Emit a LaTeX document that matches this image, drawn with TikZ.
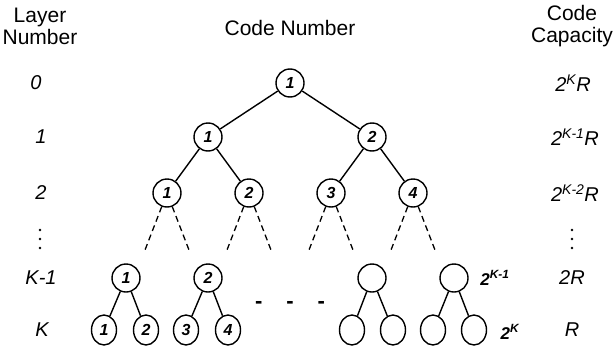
\documentclass[tikz,border=0pt]{standalone}
\usepackage{fontspec}
\setmainfont{Liberation Sans}
\usepackage{tikz}
\usetikzlibrary{shapes.geometric, positioning}

\tikzset{
    code/.style={draw, ellipse, line width=1.4pt, minimum width=28pt, minimum height=28pt, inner sep=0pt, font=\fontsize{16}{16}\selectfont\bfseries\itshape},
    leaf/.style={code, minimum width=25pt, minimum height=30pt},
    head/.style={align=center, font=\fontsize{21}{22}\selectfont},
    lbl/.style={font=\fontsize{20}{22}\selectfont\itshape},
    cnt/.style={font=\fontsize{17}{17}\selectfont\bfseries\itshape},
    edge/.style={line width=1.4pt},
    dedge/.style={line width=1.3pt, dash pattern=on 6pt off 4pt},
    dot/.style={circle, fill, inner sep=0pt, minimum size=2.6pt},
}

\begin{document}
\begin{tikzpicture}[x=1pt, y=-1pt]
    \useasboundingbox (0,0) rectangle (615,348);
    % Headings
    \node[head] (hlayer) at (40,26) {Layer\\Number};
    \node[head] (hcode) at (290,28) {Code Number};
    \node[head] (hcap) at (572,26) {Code\\Capacity};

    % Layer numbers
    \node[lbl] (l0) at (36,83) {0};
    \node[lbl] (l1) at (41,137) {1};
    \node[lbl] (l2) at (41,193) {2};
    \node[lbl] (lk1) at (41,278) {K-1};
    \node[lbl] (lk) at (42,330) {K};

    % Code capacities
    \node[lbl] (c0) at (573,83) {2\textsuperscript{K}R};
    \node[lbl] (c1) at (575,137) {2\textsuperscript{K-1}R};
    \node[lbl] (c2) at (575,193) {2\textsuperscript{K-2}R};
    \node[lbl] (ck1) at (572,278) {2R};
    \node[lbl] (ck) at (572,330) {R};

    % Vertical dots
    \node[dot] (ld1) at (40,230) {};
    \node[dot] (ld2) at (40,239) {};
    \node[dot] (ld3) at (40,248) {};
    \node[dot] (cd1) at (572,230) {};
    \node[dot] (cd2) at (572,239) {};
    \node[dot] (cd3) at (572,248) {};

    % Nodes
    \node[code] (root) at (290,83) {1};
    \node[code] (a1) at (208,137) {1};
    \node[code] (a2) at (372,137) {2};
    \node[code] (b1) at (167,193) {1};
    \node[code] (b2) at (249,193) {2};
    \node[code] (b3) at (331,193) {3};
    \node[code] (b4) at (413,193) {4};

    \node[code] (k1) at (126,278) {1};
    \node[code] (k2) at (208,278) {2};
    \node[code] (k3) at (372,278) {};
    \node[code] (k4) at (454,278) {};
    \node[cnt] (nk1) at (495,278) {2\textsuperscript{K-1}};

    \node[leaf] (m1) at (104,330) {1};
    \node[leaf] (m2) at (146,330) {2};
    \node[leaf] (m3) at (186,330) {3};
    \node[leaf] (m4) at (228,330) {4};
    \node[leaf] (m5) at (352,330) {};
    \node[leaf] (m6) at (393,330) {};
    \node[leaf] (m7) at (433,330) {};
    \node[leaf] (m8) at (474,330) {};
    \node[cnt] (nk) at (510,332) {2\textsuperscript{K}};

    \node[font=\fontsize{22}{22}\selectfont\bfseries] (gap) at (290,305) {-\hspace{24pt}-\hspace{24pt}-};

    % Ends of dashed branches
    \coordinate (e1) at (145,250);
    \coordinate (e2) at (189,250);
    \coordinate (e3) at (227,250);
    \coordinate (e4) at (271,250);
    \coordinate (e5) at (309,250);
    \coordinate (e6) at (353,250);
    \coordinate (e7) at (391,250);
    \coordinate (e8) at (435,250);

    % Edges
    \draw[edge] (root) -- (a1);
    \draw[edge] (root) -- (a2);
    \draw[edge] (a1) -- (b1);
    \draw[edge] (a1) -- (b2);
    \draw[edge] (a2) -- (b3);
    \draw[edge] (a2) -- (b4);

    \draw[dedge] (b1) -- (e1);
    \draw[dedge] (b1) -- (e2);
    \draw[dedge] (b2) -- (e3);
    \draw[dedge] (b2) -- (e4);
    \draw[dedge] (b3) -- (e5);
    \draw[dedge] (b3) -- (e6);
    \draw[dedge] (b4) -- (e7);
    \draw[dedge] (b4) -- (e8);

    \draw[edge] (k1) -- (m1);
    \draw[edge] (k1) -- (m2);
    \draw[edge] (k2) -- (m3);
    \draw[edge] (k2) -- (m4);
    \draw[edge] (k3) -- (m5);
    \draw[edge] (k3) -- (m6);
    \draw[edge] (k4) -- (m7);
    \draw[edge] (k4) -- (m8);
\end{tikzpicture}
\end{document}
